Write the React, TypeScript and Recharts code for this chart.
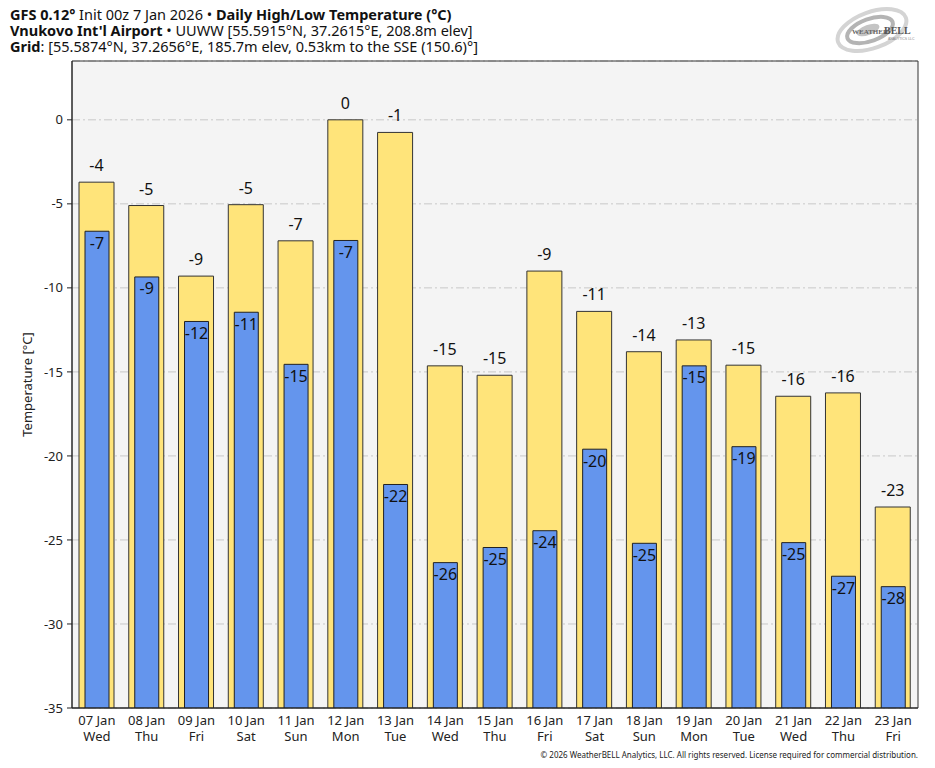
import React from 'react';
import {
  ComposedChart,
  Bar,
  XAxis,
  YAxis,
  CartesianGrid,
  LabelList,
  ReferenceArea,
} from 'recharts';

const dates = ['07 Jan', '08 Jan', '09 Jan', '10 Jan', '11 Jan', '12 Jan', '13 Jan', '14 Jan', '15 Jan', '16 Jan', '17 Jan', '18 Jan', '19 Jan', '20 Jan', '21 Jan', '22 Jan', '23 Jan'];
const days = ['Wed', 'Thu', 'Fri', 'Sat', 'Sun', 'Mon', 'Tue', 'Wed', 'Thu', 'Fri', 'Sat', 'Sun', 'Mon', 'Tue', 'Wed', 'Thu', 'Fri'];
const highs = [-3.71, -5.1, -9.3, -5.05, -7.2, 0, -0.75, -14.64, -15.2, -9.0, -11.4, -13.8, -13.1, -14.6, -16.45, -16.25, -23.04];
const lows = [-6.63, -9.35, -12.0, -11.45, -14.55, -7.18, -21.7, -26.35, -25.45, -24.45, -19.6, -25.2, -14.64, -19.45, -25.16, -27.16, -27.78];
const yTicks = [-35, -30, -25, -20, -15, -10, -5, 0];
const yMin = -35;
const yMax = 3.5;

const data = dates.map((d, i) => ({
  date: d,
  day: days[i],
  high: highs[i],
  low: lows[i],
  highRange: [yMin, highs[i]],
  lowRange: [yMin, lows[i]],
}));

const FONT = '"Noto Sans", "Open Sans", sans-serif';

const XTick = (props: any) => {
  const { x, y, payload } = props;
  const idx = payload.index;
  return (
    <g transform={`translate(${x},${y})`}>
      <text textAnchor="middle" fontFamily={FONT} fontSize={13} fill="#222">
        <tspan x={0} dy={9}>{payload.value}</tspan>
        <tspan x={0} dy={16}>{days[idx]}</tspan>
      </text>
    </g>
  );
};

const fmt = (v: any) => String(Math.round(Number(v)) || 0);

const Logo = () => (
  <svg width={100} height={50} style={{ position: 'absolute', left: 830, top: 6 }}>
    <ellipse cx={42} cy={24} rx={36} ry={18} fill="none" stroke="#d4d4d4" strokeWidth={4} transform="rotate(-20 42 24)" />
    <ellipse cx={40} cy={24} rx={24} ry={11} fill="none" stroke="#b4b4b4" strokeWidth={4} transform="rotate(-20 40 24)" />
    <ellipse cx={38} cy={24} rx={12} ry={5} fill="#c4c4c4" transform="rotate(-20 38 24)" />
    <text x={22} y={28} fontFamily="serif" fontSize={7} fontWeight="bold" fill="#666">WEATHER</text>
    <text x={54} y={28} fontFamily="serif" fontSize={10} fontWeight="bold" fill="#555">BELL</text>
    <text x={58} y={34} fontFamily="sans-serif" fontSize={3.5} fill="#888">ANALYTICS LLC</text>
  </svg>
);

export default function App() {
  return (
    <div style={{ position: 'absolute', left: 0, top: 0, width: 935, height: 768, background: '#fff', fontFamily: FONT }}>
      <div style={{ position: 'absolute', left: 10, top: 6, fontSize: 14.5, lineHeight: '16px', color: '#111', whiteSpace: 'nowrap' }}>
        <div><b>GFS 0.12°</b> Init 00z 7 Jan 2026 • <b>Daily High/Low Temperature (°C)</b></div>
        <div><b>Vnukovo Int'l Airport</b> • UUWW [55.5915°N, 37.2615°E, 208.8m elev]</div>
        <div><b>Grid</b>: [55.5874°N, 37.2656°E, 185.7m elev, 0.53km to the SSE (150.6)°]</div>
      </div>
      <Logo />
      <ComposedChart
        width={935}
        height={768}
        data={data}
        margin={{ top: 61, right: 17, bottom: 20, left: 22 }}
        barGap={0}
        barCategoryGap={0}
      >
        <CartesianGrid
          vertical={false}
          horizontal
          fill="#f4f4f4"
          stroke="#c8c8c8"
          strokeDasharray="8 3 2 3"
        />
        <XAxis
          xAxisId="a"
          dataKey="date"
          type="category"
          interval={0}
          tickLine={false}
          axisLine={{ stroke: '#222' }}
          tick={<XTick />}
          height={40}
        />
        <XAxis xAxisId="b" dataKey="date" type="category" hide />
        <YAxis
          domain={[yMin, yMax]}
          ticks={yTicks}
          type="number"
          allowDataOverflow
          width={50}
          tickSize={5}
          tickMargin={4}
          axisLine={{ stroke: '#222' }}
          tickLine={{ stroke: '#222' }}
          tick={{ fontFamily: FONT, fontSize: 13, fill: '#222' }}
          label={{
            value: 'Temperature [°C]',
            angle: -90,
            position: 'insideLeft',
            dx: 0,
            dy: 0,
            style: { fontFamily: FONT, fontSize: 13, fill: '#222', textAnchor: 'middle' },
          }}
        />
        <Bar
          xAxisId="a"
          dataKey="highRange"
          barSize={35}
          fill="#FFE47A"
          stroke="#333"
          strokeWidth={1}
          isAnimationActive={false}
        >
          <LabelList
            dataKey="high"
            position="top"
            offset={11}
            formatter={fmt}
            style={{ fontFamily: FONT, fontSize: 16, fill: '#111' }}
          />
        </Bar>
        <Bar
          xAxisId="b"
          dataKey="lowRange"
          barSize={24}
          fill="#6495ED"
          stroke="#222"
          strokeWidth={1}
          isAnimationActive={false}
        >
          <LabelList
            dataKey="low"
            position="insideTop"
            offset={6}
            formatter={fmt}
            style={{ fontFamily: FONT, fontSize: 16, fill: '#111' }}
          />
        </Bar>
        <ReferenceArea
          xAxisId="a"
          y1={yMin}
          y2={yMax}
          fill="none"
          fillOpacity={0}
          stroke="#333"
          strokeWidth={1}
          ifOverflow="visible"
        />
      </ComposedChart>
      <div style={{ position: 'absolute', right: 17, top: 749, fontSize: 8, color: '#222', whiteSpace: 'nowrap' }}>
        © 2026 WeatherBELL Analytics, LLC. All rights reserved. License required for commercial distribution.
      </div>
    </div>
  );
}
